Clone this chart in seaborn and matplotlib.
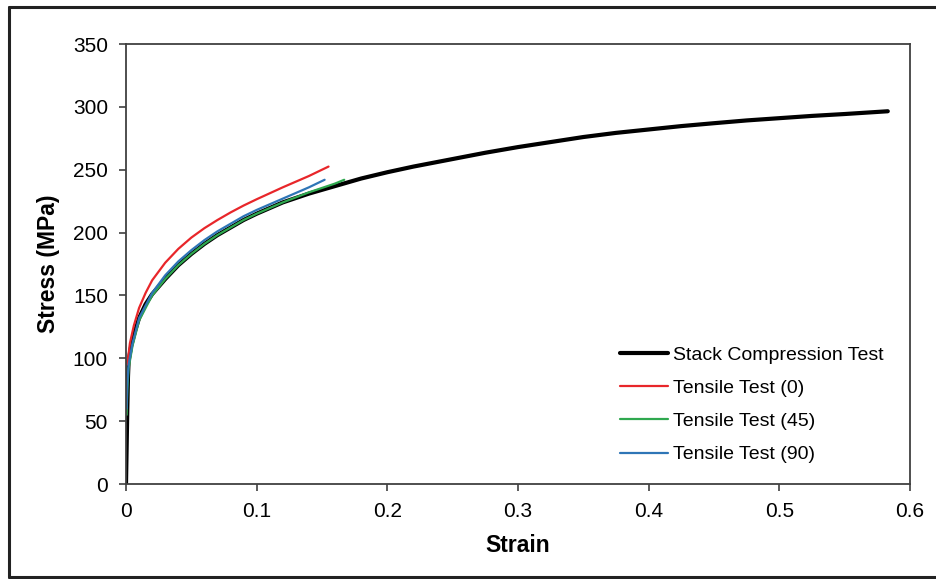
import numpy as np
import pandas as pd
import seaborn as sns
import matplotlib.pyplot as plt
from matplotlib.lines import Line2D

# values (strain, stress in MPa)
stack_strain = [0, 0.0005, 0.001, 0.0015, 0.002, 0.004, 0.007, 0.01, 0.015, 0.02,
                0.03, 0.04, 0.05, 0.06, 0.07, 0.08, 0.09, 0.10, 0.12, 0.14,
                0.16, 0.18, 0.20, 0.22, 0.25, 0.275, 0.30, 0.325, 0.35, 0.375,
                0.40, 0.425, 0.45, 0.475, 0.50, 0.525, 0.55, 0.583]
stack_stress = [0, 30, 60, 85, 98, 110, 122, 132, 143, 151,
                163, 174, 183, 191, 198, 204, 210, 215, 224, 231,
                237, 243, 248, 252.5, 258.5, 263.5, 268, 272, 276, 279.3,
                282, 284.7, 287, 289.2, 291, 292.8, 294.3, 296.5]

t0_strain = [0.001, 0.003, 0.006, 0.01, 0.015, 0.02, 0.03, 0.04, 0.05, 0.06,
             0.07, 0.08, 0.09, 0.10, 0.12, 0.14, 0.155]
t0_stress = [95, 112, 126, 140, 152, 162, 176, 187, 196, 203.5,
             210, 216, 221.5, 226.5, 236, 245, 252.5]

t45_strain = [0.0005, 0.001, 0.002, 0.005, 0.01, 0.02, 0.03, 0.04, 0.05, 0.06,
              0.07, 0.08, 0.09, 0.10, 0.12, 0.14, 0.16, 0.167]
t45_stress = [55, 75, 92, 110, 130, 150, 163, 174, 183, 191,
              198, 204, 210, 215, 224, 232, 239, 242]

t90_strain = [0.0005, 0.001, 0.002, 0.005, 0.01, 0.02, 0.03, 0.04, 0.05, 0.06,
              0.07, 0.08, 0.09, 0.10, 0.12, 0.14, 0.152]
t90_stress = [60, 80, 95, 112, 132, 152, 166, 177, 186, 194,
              201, 207, 213, 218, 227, 236, 242]

series = [
    ("Stack Compression Test", stack_strain, stack_stress, "black", 3.0),
    ("Tensile Test (0)", t0_strain, t0_stress, "#e8262a", 1.6),
    ("Tensile Test (45)", t45_strain, t45_stress, "#2fa84f", 1.6),
    ("Tensile Test (90)", t90_strain, t90_stress, "#2e75b6", 1.6),
]

sns.set_theme(style="white")
plt.rcParams['font.family'] = ['Liberation Sans', 'DejaVu Sans']
plt.rcParams['text.color'] = 'black'
plt.rcParams['axes.labelcolor'] = 'black'

fig = plt.figure(figsize=(9.36, 5.79), dpi=100)
ax = fig.add_axes([126 / 936, 1 - 484 / 579, 784 / 936, 440 / 579])

for name, xs, ys, color, lw in series:
    df = pd.DataFrame({"Strain": xs, "Stress": ys})
    sns.lineplot(data=df, x="Strain", y="Stress", ax=ax, color=color,
                 linewidth=lw, sort=False, estimator=None, label=name)

ax.set_xlim(0, 0.6)
ax.set_ylim(0, 350)
ax.set_xticks(np.arange(0, 0.61, 0.1))
ax.set_xticklabels(["0", "0.1", "0.2", "0.3", "0.4", "0.5", "0.6"])
ax.set_yticks(range(0, 351, 50))
ax.tick_params(direction="out", length=5, width=1.2, color="#404040",
               labelsize=15, labelcolor="black",
               bottom=True, left=True)
ax.tick_params(axis="y", pad=8)
ax.tick_params(axis="x", pad=8)

for side in ["left", "bottom", "top", "right"]:
    ax.spines[side].set_visible(True)
    ax.spines[side].set_color("#404040")
    ax.spines[side].set_linewidth(1.3)

ax.set_xlabel("Strain", fontsize=16.5, fontweight="bold", labelpad=9)
ax.set_ylabel("Stress (MPa)", fontsize=16.5, fontweight="bold", labelpad=9)

ax.legend(loc="upper left", bbox_to_anchor=(0.63, 0.313), frameon=False,
          fontsize=14, handlelength=2.45, handletextpad=0.3,
          labelspacing=0.8, borderpad=0, borderaxespad=0)

# outer frame of the original figure (top, left, bottom)
fig.add_artist(Line2D([9 / 936, 1], [1 - 7 / 579, 1 - 7 / 579], color="#222222", lw=2.2))
fig.add_artist(Line2D([9 / 936, 9 / 936], [1 - 7 / 579, 1 - 577 / 579], color="#222222", lw=2.2))
fig.add_artist(Line2D([9 / 936, 1], [1 - 577 / 579, 1 - 577 / 579], color="#222222", lw=2.2))

fig.savefig("out.png", dpi=100)
